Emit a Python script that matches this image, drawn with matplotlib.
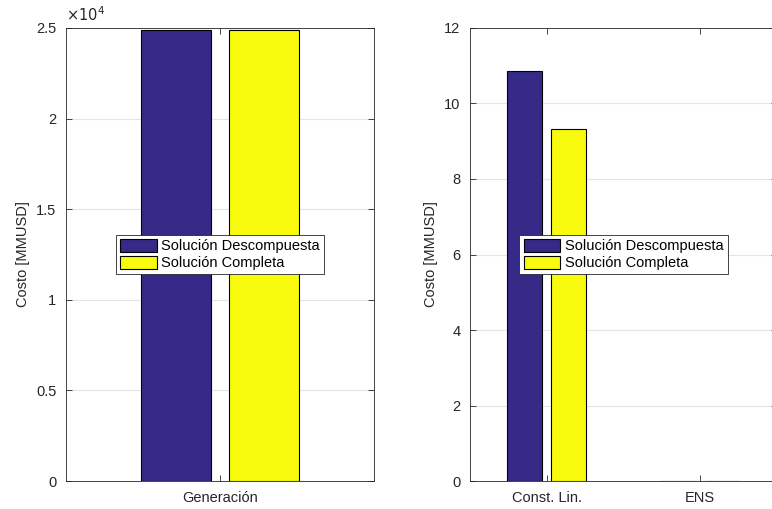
import matplotlib.pyplot as plt
import numpy as np
from matplotlib.ticker import FuncFormatter

plt.rcParams['font.family'] = ['Liberation Sans', 'DejaVu Sans']

series = ['Solución Descompuesta', 'Solución Completa']
colors = ['#352a87', '#f9fb0e']

gen_labels = ['Generación']
gen_cost = [[24900], [24900]]          # per series

other_labels = ['Const. Lin.', 'ENS']
other_cost = [[10.87, 0.01], [9.32, 0.005]]

text_c = '#262626'
fs = 10.5


def grouped_bars(ax, labels, values):
    x = np.arange(1, len(labels) + 1)
    offsets = [-0.143, 0.143]
    for vals, off, c, name in zip(values, offsets, colors, series):
        ax.bar(x + off, vals, width=0.23, color=c, edgecolor='black',
               linewidth=0.8, label=name, zorder=3)
    ax.set_xticks(x)
    ax.set_xticklabels(labels)
    ax.set_xlim(0.5, len(labels) + 0.5)
    ax.set_ylabel('Costo [MMUSD]', fontsize=fs, color=text_c, labelpad=4)
    ax.yaxis.grid(True, color='#e6e6e6', linewidth=0.8, zorder=0)
    ax.set_axisbelow(True)
    ax.tick_params(direction='in', top=True, right=True, labelsize=fs,
                   colors=text_c, length=4, width=0.6)
    ax.tick_params(axis='x', pad=7)
    ax.tick_params(axis='y', pad=7)
    for s in ax.spines.values():
        s.set_color(text_c)
        s.set_linewidth(0.6)
    leg = ax.legend(loc='center', fontsize=fs, fancybox=False, framealpha=1,
                    edgecolor=text_c, handlelength=2.5, handleheight=1.0,
                    handletextpad=0.3, borderpad=0.3, labelspacing=0.15)
    leg.get_frame().set_linewidth(0.6)
    return leg


fig = plt.figure(figsize=(7.72, 5.09), dpi=100)
ax1 = fig.add_axes([0.0855, 0.055, 0.399, 0.89])
ax2 = fig.add_axes([0.6088, 0.055, 0.3977, 0.89])

grouped_bars(ax1, gen_labels, gen_cost)
ax1.set_ylim(0, 25000)
ax1.set_yticks(np.arange(0, 25001, 5000))
ax1.yaxis.set_major_formatter(FuncFormatter(lambda v, p: '%g' % (v / 1e4)))
ax1.text(0.0, 1.008, r'$\times10^{4}$', transform=ax1.transAxes,
         fontsize=fs, color=text_c, ha='left', va='bottom')

grouped_bars(ax2, other_labels, other_cost)
ax2.set_ylim(0, 12)
ax2.set_yticks(np.arange(0, 13, 2))

fig.savefig('out.png', dpi=100)
